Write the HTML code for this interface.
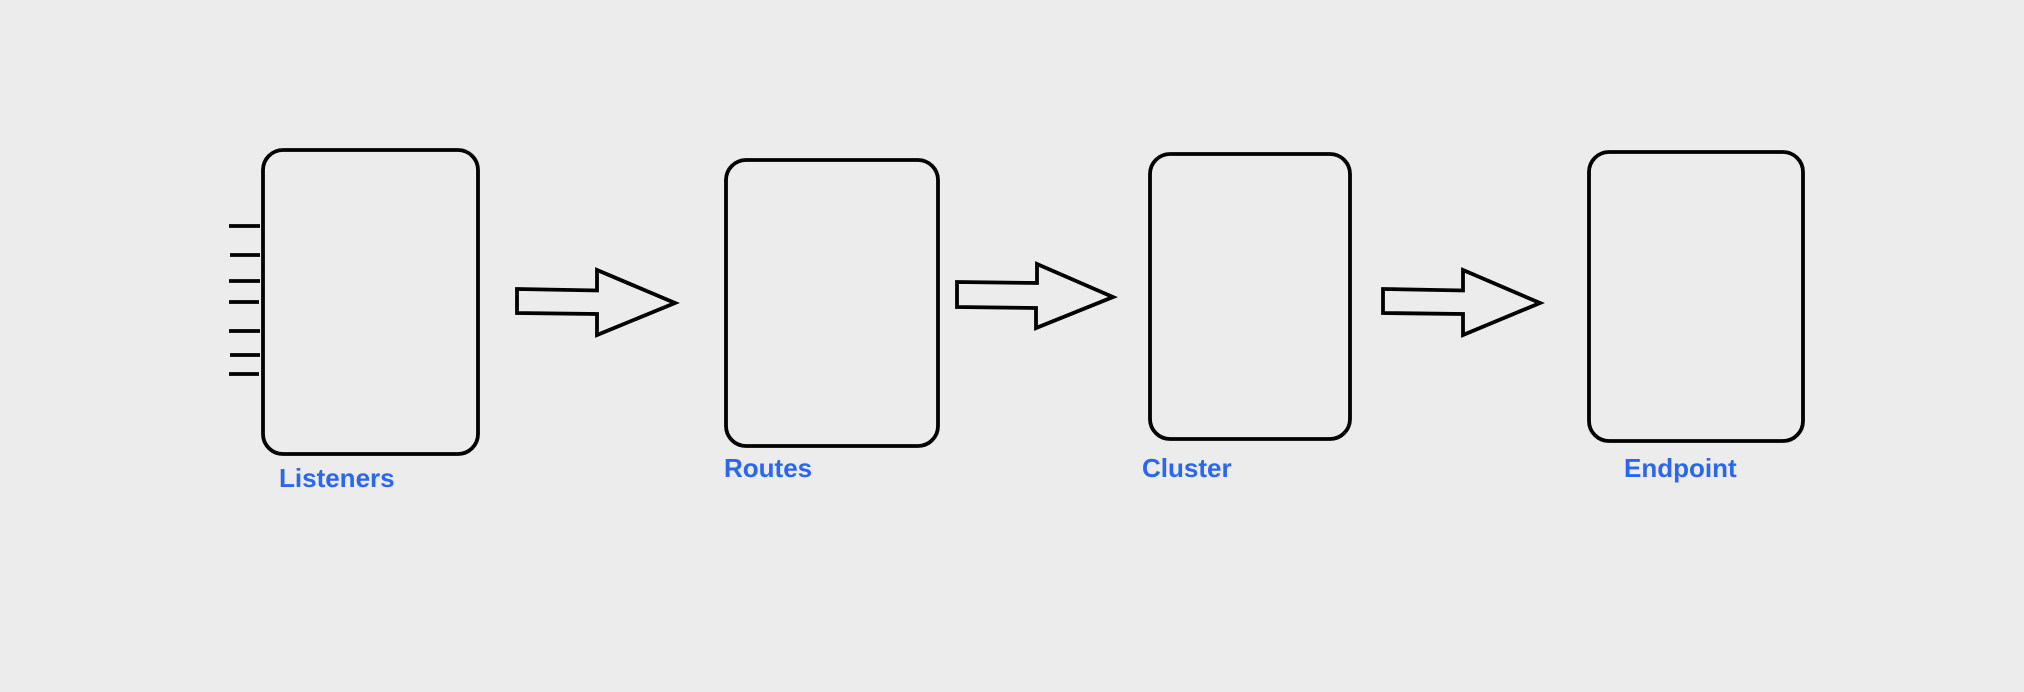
<!DOCTYPE html>
<html><head><style>
html,body{margin:0;padding:0;background:#ececec;}
svg{display:block}
text{font-family:"Liberation Sans",sans-serif;font-weight:bold;font-size:26px;fill:#2a66f0}
</style></head><body>
<svg width="2024" height="692" viewBox="0 0 2024 692">
<rect width="2024" height="692" fill="#ececec"/>
<g fill="none" stroke="#000" stroke-width="3.8">
<rect x="263" y="150" width="215" height="304" rx="20"/>
<rect x="726" y="160" width="212" height="286" rx="20"/>
<rect x="1150" y="154" width="200" height="285" rx="20"/>
<rect x="1589" y="152" width="214" height="289" rx="20"/>
<path d="M229 226H260M230 255H260M229 281H260M229 302H259M229 331H260M230 355H260M229 374H259"/>
<path d="M517 289L597 290.5V270L675 303L597 335V314L517 313Z"/>
<path d="M957 282L1037 283V264L1113 297L1036 328V308L957 307Z"/>
<path d="M1383 289L1463 290.5V270L1540 303L1463 335V314L1383 313Z"/>
</g>
<text x="279" y="487">Listeners</text>
<text x="724" y="477">Routes</text>
<text x="1142" y="477">Cluster</text>
<text x="1624" y="477">Endpoint</text>
</svg>
</body></html>
